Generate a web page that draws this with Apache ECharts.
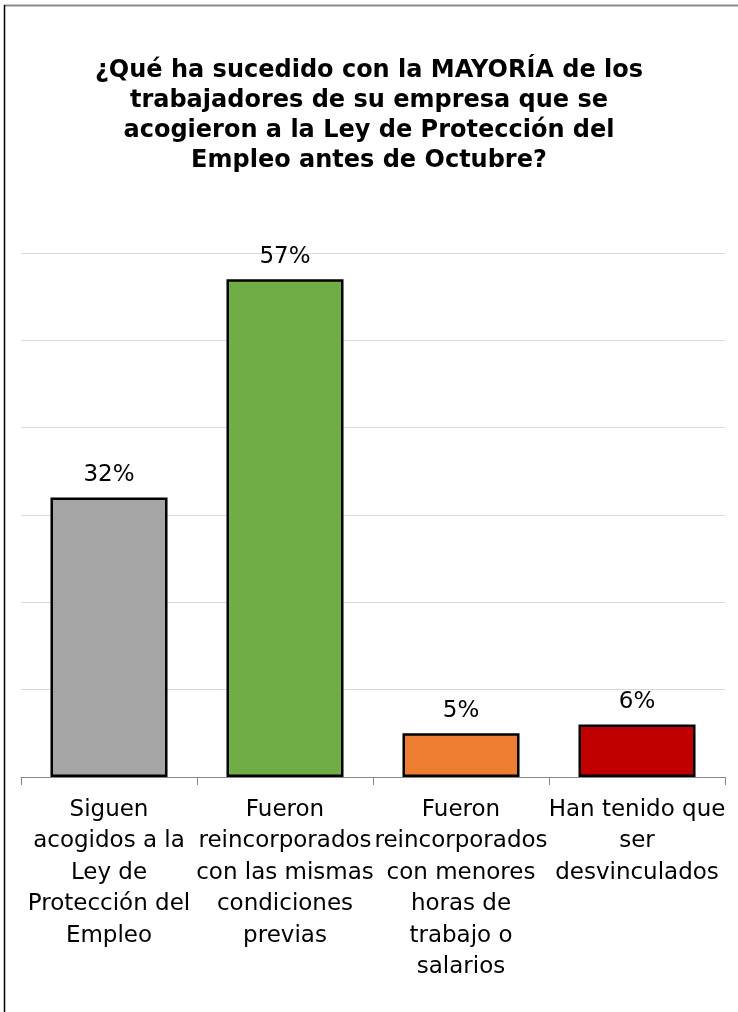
<!DOCTYPE html>
<html>
<head>
<meta charset="utf-8">
<script src="https://cdn.jsdelivr.net/npm/echarts@6/dist/echarts.min.js"></script>
<style>
  html, body { margin: 0; padding: 0; background: #fff; }
  #chart { width: 738px; height: 1012px; }
</style>
</head>
<body>
<div id="chart"></div>
<script>
'use strict';

// chart data
const titleText = '¿Qué ha sucedido con la MAYORÍA de los\ntrabajadores de su empresa que se\nacogieron a la Ley de Protección del\nEmpleo antes de Octubre?';
const categories = [
  'Siguen\nacogidos a la\nLey de\nProtección del\nEmpleo',
  'Fueron\nreincorporados\ncon las mismas\ncondiciones\nprevias',
  'Fueron\nreincorporados\ncon menores\nhoras de\ntrabajo o\nsalarios',
  'Han tenido que\nser\ndesvinculados'
];
const values = [32, 57, 5, 6];
const barColors = ['#a5a5a5', '#70ad47', '#ed7d31', '#c00000'];

const font = 'DejaVu Sans';

const chart = echarts.init(document.getElementById('chart'));

const option = {
  backgroundColor: '#fff',
  animation: false,
  title: {
    text: titleText,
    left: 'center',
    top: 51,
    textStyle: {
      fontFamily: font,
      fontWeight: 'bold',
      fontSize: 24,
      lineHeight: 30,
      color: '#000'
    }
  },
  graphic: [
    {
      type: 'line',
      shape: { x1: 4, y1: 5.5, x2: 738, y2: 5.5 },
      style: { stroke: '#898989', lineWidth: 2 }
    },
    {
      type: 'line',
      shape: { x1: 4.5, y1: 5, x2: 4.5, y2: 1012 },
      style: { stroke: '#000', lineWidth: 1.5 }
    }
  ],
  grid: {
    left: 21,
    right: 13,
    top: 253,
    bottom: 235
  },
  xAxis: {
    type: 'category',
    data: categories,
    axisLine: { lineStyle: { color: '#868686', width: 1 } },
    axisTick: { show: true, length: 8, lineStyle: { color: '#868686' } },
    axisLabel: {
      interval: 0,
      margin: 17,
      fontFamily: font,
      fontSize: 23,
      lineHeight: 31.5,
      color: '#000',
      align: 'center'
    }
  },
  yAxis: {
    type: 'value',
    min: 0,
    max: 60,
    interval: 10,
    axisLabel: { show: false },
    axisLine: { show: false },
    axisTick: { show: false },
    splitLine: { lineStyle: { color: '#d9d9d9', width: 1 } }
  },
  series: [{
    type: 'bar',
    barCategoryGap: '33.5%',
    data: values.map((v, i) => ({
      value: v,
      itemStyle: { color: barColors[i] }
    })),
    itemStyle: { borderColor: '#000', borderWidth: 2.5 },
    label: {
      show: true,
      position: 'top',
      distance: 11,
      formatter: '{c}%',
      fontFamily: font,
      fontSize: 23,
      color: '#000'
    }
  }]
};

chart.setOption(option);
</script>
</body>
</html>
